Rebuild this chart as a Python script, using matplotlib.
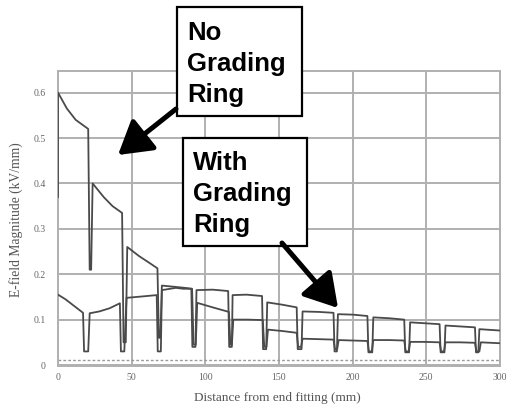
import matplotlib
matplotlib.use("Agg")
import matplotlib.pyplot as plt
from matplotlib.patches import Rectangle

# ---- data ----
no_ring_x = [0, 0, 6, 12, 20.5,            # first segment
             21.5, 22.5,                   # partial drop
             23.5, 31, 37, 43.5,
             44.5, 46,
             47, 55, 62, 67.5,
             68.5, 69.5,
             70.5, 80, 86, 91,
             92, 93.5,
             94.5, 105, 116,
             117, 118,
             119, 129, 139,
             140, 141.5,
             142.5, 152, 162,
             163, 165,
             166, 177, 187,
             188, 189.5,
             190.5, 200, 210,
             211, 213,
             214, 225, 235,
             236, 238,
             239, 249, 259,
             260, 262,
             263, 273, 283,
             284, 286,
             287, 300]
no_ring_y = [0.37, 0.60, 0.565, 0.54, 0.52,
             0.21, 0.21,
             0.40, 0.37, 0.35, 0.335,
             0.05, 0.05,
             0.26, 0.24, 0.225, 0.213,
             0.06, 0.06,
             0.175, 0.172, 0.17, 0.168,
             0.045, 0.045,
             0.137, 0.127, 0.117,
             0.045, 0.045,
             0.100, 0.100, 0.099,
             0.04, 0.04,
             0.078, 0.075, 0.071,
             0.04, 0.04,
             0.058, 0.057, 0.056,
             0.035, 0.035,
             0.055, 0.054, 0.053,
             0.03, 0.03,
             0.055, 0.055, 0.054,
             0.03, 0.03,
             0.051, 0.051, 0.050,
             0.03, 0.03,
             0.050, 0.050, 0.049,
             0.03, 0.03,
             0.050, 0.048]

ring_x = [0, 5, 11, 17,
          17.7, 20.5,
          21.5, 28, 35, 42,
          42.7, 45,
          46.5, 57, 67,
          67.7, 69.8,
          70.5, 80, 85, 90.5,
          91.2, 93.3,
          94, 105, 115.5,
          116.2, 118,
          118.5, 128, 138.5,
          139.2, 141.3,
          142, 152, 162,
          162.7, 165.3,
          166, 177, 187,
          187.7, 189.3,
          190, 200, 210,
          210.7, 213.3,
          214, 225, 235,
          235.7, 238.3,
          239, 249, 259,
          259.7, 262.3,
          263, 273, 283,
          283.7, 285.3,
          286, 300]
ring_y = [0.155, 0.145, 0.13, 0.115,
          0.03, 0.03,
          0.114, 0.118, 0.125, 0.136,
          0.03, 0.03,
          0.148, 0.151, 0.154,
          0.03, 0.03,
          0.165, 0.17, 0.168, 0.168,
          0.04, 0.04,
          0.165, 0.166, 0.163,
          0.04, 0.04,
          0.154, 0.155, 0.152,
          0.035, 0.035,
          0.138, 0.133, 0.127,
          0.035, 0.035,
          0.118, 0.117, 0.115,
          0.03, 0.03,
          0.112, 0.111, 0.108,
          0.028, 0.028,
          0.105, 0.103, 0.100,
          0.028, 0.028,
          0.094, 0.092, 0.090,
          0.028, 0.028,
          0.087, 0.085, 0.083,
          0.028, 0.028,
          0.079, 0.076]

base_x = [0, 300]
base_y = [0.012, 0.012]

x_ticks = [0, 50, 100, 150, 200, 250, 300]
x_tick_labels = ["0", "50", "100", "150", "200", "250", "300"]
y_ticks = [0, 0.1, 0.2, 0.3, 0.4, 0.5, 0.6]
y_tick_labels = ["0", "0.1", "0.2", "0.3", "0.4", "0.5", "0.6"]

W, H = 508, 412
fig = plt.figure(figsize=(W / 100, H / 100), dpi=100)
ax = fig.add_axes([58 / W, 1 - 366.4 / H, 442 / W, (366.4 - 70.8) / H])

grid_c = "#b0b0b0"
line_c = "#4a4a4a"
ax.plot(base_x, base_y, color="#9a9a9a", lw=1.0, ls=(0, (2, 1.5)), zorder=2)
ax.plot(ring_x, ring_y, color=line_c, lw=1.3, zorder=3)
ax.plot(no_ring_x, no_ring_y, color=line_c, lw=1.3, zorder=3)

ax.set_xlim(0, 300)
ax.set_ylim(-0.003, 0.648)
ax.set_xticks(x_ticks)
ax.set_xticklabels(x_tick_labels)
ax.set_yticks(y_ticks)
ax.set_yticklabels(y_tick_labels)
ax.grid(True, color=grid_c, lw=1.4)
ax.set_axisbelow(True)
for s in ax.spines.values():
    s.set_color(grid_c)
    s.set_linewidth(1.4)
ax.tick_params(length=0, labelsize=7, labelcolor="#666666")
ax.tick_params(axis="y", pad=9)
ax.tick_params(axis="x", pad=5)
for lab in ax.get_xticklabels() + ax.get_yticklabels():
    lab.set_family("Liberation Serif")

fig.text(277 / W, 1 - 398 / H, "Distance from end fitting (mm)", ha="center", va="center",
         fontsize=9.5, family="Liberation Serif", color="#555555")
fig.text(16 / W, 1 - 220 / H, "E-field Magnitude (kV/mm)", ha="center", va="center",
         rotation=90, fontsize=9.8, family="Liberation Serif", color="#555555")

# annotation boxes
def box(x0, y0, x1, y1, text, tx, ty):
    fig.patches.append(Rectangle((x0 / W, 1 - y1 / H), (x1 - x0) / W, (y1 - y0) / H,
                                 transform=fig.transFigure, facecolor="white",
                                 edgecolor="black", lw=1.6, zorder=5))
    fig.text(tx / W, 1 - ty / H, text, ha="left", va="top", fontsize=18.5,
             family="Liberation Sans", weight="bold", linespacing=1.38, zorder=6)

def arrow(x0, y0, x1, y1):
    fig.add_artist(matplotlib.patches.FancyArrowPatch(
        (x0 / W, 1 - y0 / H), (x1 / W, 1 - y1 / H), transform=fig.transFigure,
        arrowstyle="-|>,head_length=1.25,head_width=0.75", mutation_scale=16,
        lw=3.6, color="black", shrinkA=0, shrinkB=0, zorder=7))

box(177, 7, 302, 116, "No\nGrading\nRing", 187, 21)
box(183, 138, 307, 246, "With\nGrading\nRing", 193, 151)
arrow(176, 109, 118, 155)
arrow(282, 243, 338, 308)

fig.savefig("out.png", dpi=100)
